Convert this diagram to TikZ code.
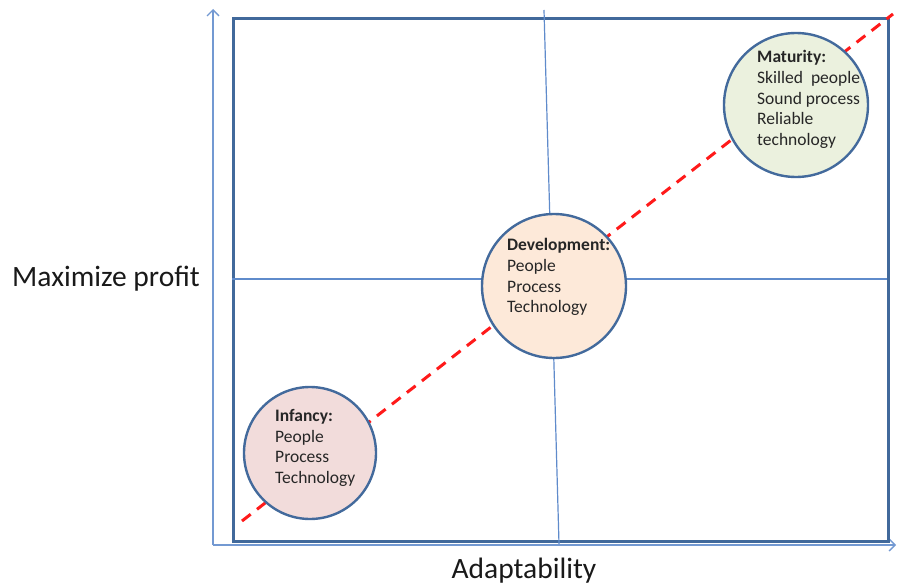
\documentclass[tikz,border=0pt]{standalone}
\usepackage{fontspec}
\setmainfont{Carlito}
\usetikzlibrary{arrows.meta}
\definecolor{boxblue}{HTML}{41699B}
\definecolor{axisblue}{HTML}{7399D2}
\definecolor{divblue}{HTML}{5F8BCB}
\definecolor{circleline}{HTML}{436A9C}
\definecolor{infancyfill}{HTML}{F2DCDB}
\definecolor{devfill}{HTML}{FDE9D9}
\definecolor{matfill}{HTML}{EBF1DE}
\definecolor{dashred}{HTML}{FF1A1A}
\tikzset{
  axisline/.style={draw=axisblue, line width=1.5pt, -{Straight Barb[length=6pt,width=12pt,line width=1.3pt]}},
  divider/.style={draw=divblue, line width=1.2pt},
  frame/.style={draw=boxblue, line width=3pt, inner sep=0pt, anchor=north west},
  trend/.style={draw=dashred, line width=3pt, dash pattern=on 11pt off 8pt},
  stage/.style={circle, draw=circleline, line width=2.4pt, inner sep=0pt},
  stagetext/.style={align=left, anchor=north west, inner sep=0pt, font=\fontsize{17.5}{20.8}\selectfont, text=black!85},
  axislabel/.style={font=\fontsize{29.5}{36}\selectfont, text=black!90, inner sep=0pt}
}
\begin{document}
\begin{tikzpicture}[x=1pt,y=-1pt]
\useasboundingbox (0,0) rectangle (897,586);
% axes
\coordinate (origin) at (213,545);
\coordinate (ytop) at (213,9);
\coordinate (xend) at (896,545);
\draw[axisline] (origin) -- (ytop);
\draw[axisline] (origin) -- (xend);
% frame
\node[frame, minimum width=655pt, minimum height=523pt] (box) at (232,17) {};
% dividers
\coordinate (vtop) at (544,10);
\coordinate (vbot) at (559,544);
\coordinate (hleft) at (232,279);
\coordinate (hright) at (887,279);
\draw[divider] (vtop) -- (vbot);
\draw[divider] (hleft) -- (hright);
% trend line
\coordinate (tstart) at (242,521);
\coordinate (tend) at (893,14);
\draw[trend] (tstart) -- (tend);
% stages
\node[stage, fill=infancyfill, minimum size=132pt] (infancy) at (310,453) {};
\node[stage, fill=devfill, minimum size=144pt] (development) at (554,286) {};
\node[stage, fill=matfill, minimum size=144pt] (maturity) at (796,105) {};
\node[stagetext] (infancytext) at (275,409) {\textbf{Infancy:}\\People\\Process\\Technology};
\node[stagetext] (devtext) at (507,238) {\textbf{Development:}\\People\\Process\\Technology};
\node[stagetext] (mattext) at (757,50) {\textbf{Maturity:}\\Skilled\ \ people\\Sound process\\Reliable\\technology};
% axis labels
\node[axislabel, anchor=base west] (ylabel) at (12,286) {Maximize profit};
\node[axislabel, anchor=base] (xlabel) at (524,578) {Adaptability};
\end{tikzpicture}
\end{document}
